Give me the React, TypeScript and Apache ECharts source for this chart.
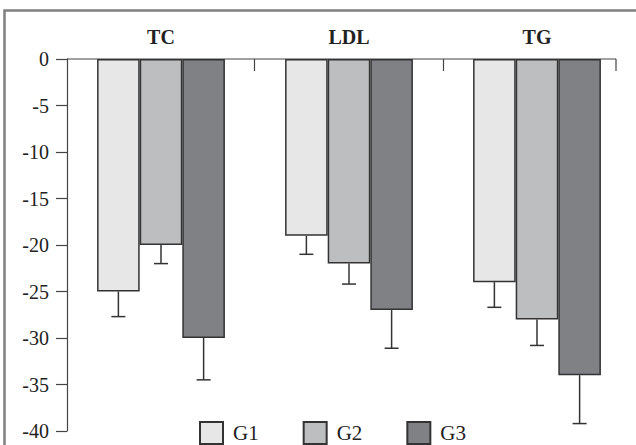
import React, { useEffect, useRef } from "react";
import * as echarts from "echarts";

const categories = ["TC", "LDL", "TG"];
const seriesNames = ["G1", "G2", "G3"];
const g1Values = [-25, -19, -24];
const g2Values = [-20, -22, -28];
const g3Values = [-30, -27, -34];
const g1ErrLow = [-27.7, -21, -26.7];
const g2ErrLow = [-22, -24.2, -30.8];
const g3ErrLow = [-34.5, -31.1, -39.2];
const yTicks = [0, -5, -10, -15, -20, -25, -30, -35, -40];

const colors = ["#e6e7e6", "#bdbebf", "#808184"];
const FONT = "'Liberation Serif', 'DejaVu Serif', serif";
const CATEGORY_GAP = 0.32;

export default function App() {
  const ref = useRef<HTMLDivElement>(null);
  useEffect(() => {
    if (!ref.current) return;
    const chart = echarts.init(ref.current, null, { renderer: "svg" });
    const values = [g1Values, g2Values, g3Values];
    const errs = [g1ErrLow, g2ErrLow, g3ErrLow];

    const barSeries = seriesNames.map((name, i) => ({
      name,
      type: "bar",
      data: values[i],
      barGap: "0%",
      barCategoryGap: CATEGORY_GAP * 100 + "%",
      itemStyle: { color: colors[i], borderColor: "#333", borderWidth: 1.5 },
      z: 2,
    }));

    const errSeries = seriesNames.map((name, i) => ({
      name: name + "-err",
      type: "custom",
      z: 3,
      data: categories.map((_, k) => [k, values[i][k], errs[i][k]]),
      renderItem: (params: any, api: any) => {
        const k = api.value(0);
        const top = api.coord([k, api.value(1)]);
        const bot = api.coord([k, api.value(2)]);
        const band = api.size([1, 0])[0];
        const bw = (band * (1 - CATEGORY_GAP)) / 3;
        const x = top[0] + (i - 1) * bw;
        const cap = 7;
        return {
          type: "group",
          children: [
            { type: "line", shape: { x1: x, y1: top[1], x2: x, y2: bot[1] }, style: { stroke: "#333", lineWidth: 1.5 } },
            { type: "line", shape: { x1: x - cap, y1: bot[1], x2: x + cap, y2: bot[1] }, style: { stroke: "#333", lineWidth: 1.5 } },
          ],
        };
      },
    }));

    chart.setOption({
      animation: false,
      backgroundColor: "#fff",
      grid: { left: 67, right: 5, top: 59, bottom: 14 },
      legend: {
        data: seriesNames,
        left: 194,
        top: 416,
        padding: 5,
        itemWidth: 23,
        itemHeight: 22,
        itemGap: 44,
        icon: "rect",
        textStyle: { fontFamily: FONT, fontSize: 21, color: "#222", padding: [0, 0, 0, 5] },
      },
      xAxis: {
        type: "category",
        data: categories,
        position: "top",
        axisLine: { show: false },
        axisTick: { show: false },
        axisLabel: { fontFamily: FONT, fontSize: 20, fontWeight: "bold", color: "#222", margin: 12 },
      },
      yAxis: {
        type: "value",
        min: -40,
        max: 0,
        interval: 5,
        axisLine: { show: true, lineStyle: { color: "#444", width: 1.2 } },
        axisTick: { show: true, length: 11, lineStyle: { color: "#444", width: 1.2 } },
        splitLine: { show: false },
        axisLabel: {
          fontFamily: FONT,
          fontSize: 20,
          color: "#222",
          margin: 18,
          formatter: (v: number) => (yTicks.includes(v) ? String(v) : ""),
        },
      },
      graphic: [
        { type: "rect", shape: { x: 4.5, y: 10.5, width: 700, height: 500 }, style: { fill: "none", stroke: "#808080", lineWidth: 2.5 }, silent: true },
        { type: "polyline", shape: { points: [[67, 59], [616, 59]] }, style: { stroke: "#444", lineWidth: 1.2, fill: "none" }, z: 1 },
        { type: "line", shape: { x1: 254.5, y1: 59, x2: 254.5, y2: 71 }, style: { stroke: "#444", lineWidth: 1.2 } },
        { type: "line", shape: { x1: 443.5, y1: 59, x2: 443.5, y2: 71 }, style: { stroke: "#444", lineWidth: 1.2 } },
        { type: "line", shape: { x1: 616, y1: 59, x2: 616, y2: 71 }, style: { stroke: "#444", lineWidth: 1.2 } },
      ],
      series: [...barSeries, ...errSeries],
    });
    return () => chart.dispose();
  }, []);
  return <div ref={ref} style={{ width: 636, height: 445, position: "absolute", left: 0, top: 0 }} />;
}
